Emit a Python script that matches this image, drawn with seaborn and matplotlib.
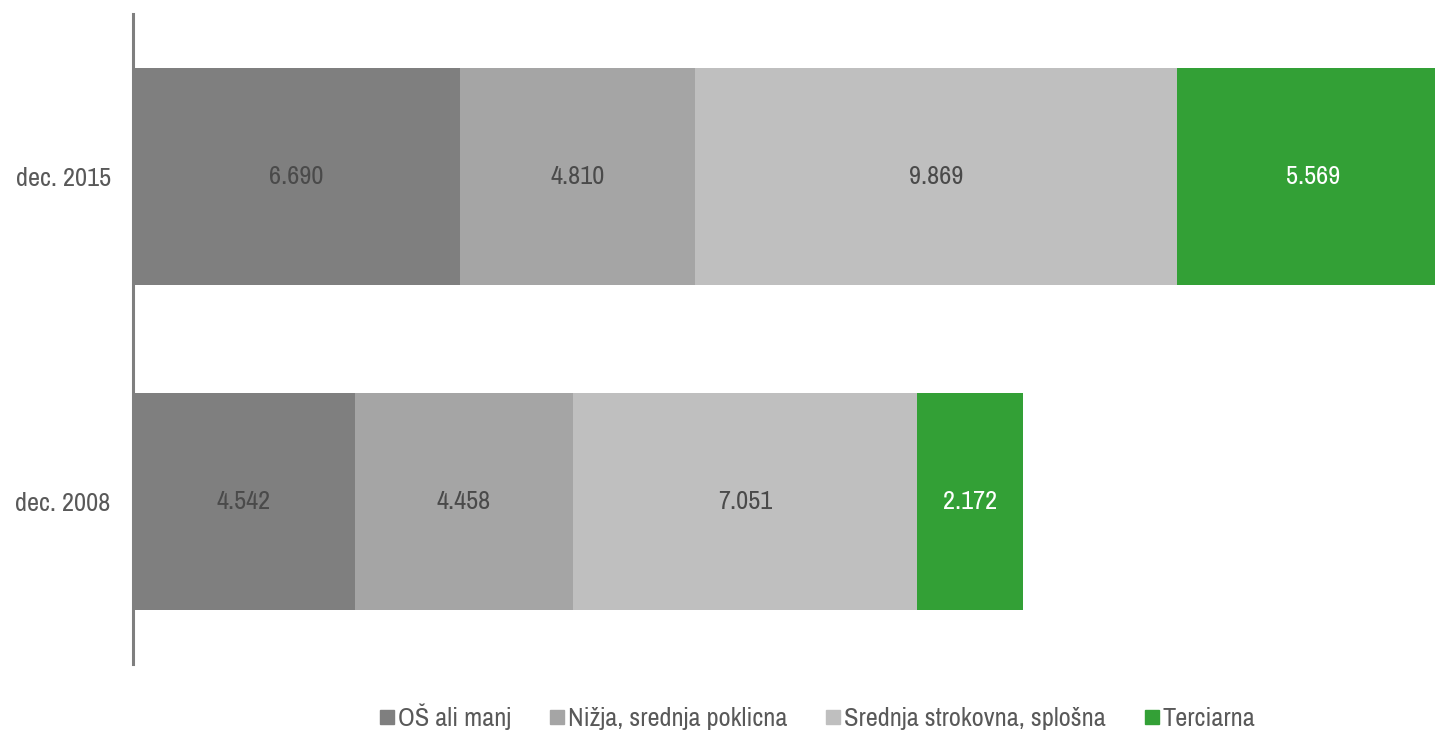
import matplotlib
matplotlib.use("Agg")
import matplotlib.pyplot as plt
import seaborn as sns
import pandas as pd
from matplotlib.lines import Line2D

# DATA
periods = ["dec. 2015", "dec. 2008"]
levels = ["OŠ ali manj", "Nižja, srednja poklicna", "Srednja strokovna, splošna", "Terciarna"]
osnovna = [6690, 4542]
nizja = [4810, 4458]
srednja = [9869, 7051]
terciarna = [5569, 2172]
colors = ["#7f7f7f", "#a5a5a5", "#bfbfbf", "#33a036"]

df = pd.DataFrame({"period": periods,
                   levels[0]: osnovna, levels[1]: nizja,
                   levels[2]: srednja, levels[3]: terciarna})

# cumulative sums so the stack can be drawn back to front
cum = df[levels].cumsum(axis=1)
starts = cum - df[levels]

sns.set_style("white")
plt.rcParams["font.family"] = ["Liberation Sans Narrow", "Archivo Narrow", "DejaVu Sans"]

fig = plt.figure(figsize=(14.35, 7.31), dpi=100)
ax = fig.add_axes([0.0927, 0.0917, 0.9073, 0.889])

for lvl, col in reversed(list(zip(levels, colors))):
    sns.barplot(x=cum[lvl], y=df["period"], order=periods, color=col,
                orient="h", width=0.67, ax=ax, saturation=1, linewidth=0)

# value labels in the middle of each segment
for i in range(len(periods)):
    for j, lvl in enumerate(levels):
        mid = starts.loc[i, lvl] + df.loc[i, lvl] / 2
        txt = f"{df.loc[i, lvl]:,}".replace(",", ".")
        ax.text(mid, i, txt, ha="center", va="center", fontsize=19,
                color="white" if j == 3 else "#4a4a4a")

ax.set_xlim(0, 26650)
ax.set_ylim(1.5, -0.5)
ax.set_xlabel("")
ax.set_ylabel("")
ax.set_xticks([])
ax.tick_params(axis="y", length=0, labelsize=19, labelcolor="#595959", pad=16)
for s in ["top", "right", "bottom"]:
    ax.spines[s].set_visible(False)
ax.spines["left"].set_color("#7f7f7f")
ax.spines["left"].set_linewidth(2.2)

handles = [Line2D([0], [0], marker="s", linestyle="", markersize=9.4,
                  markerfacecolor=c, markeredgecolor=c) for c in colors]
fig.legend(handles, levels, loc="center", bbox_to_anchor=(0.570, 0.019),
           ncol=4, frameon=False, fontsize=19, handletextpad=0.15,
           handlelength=0.5, columnspacing=1.5, labelcolor="#595959")

fig.savefig("out.png", dpi=100)
